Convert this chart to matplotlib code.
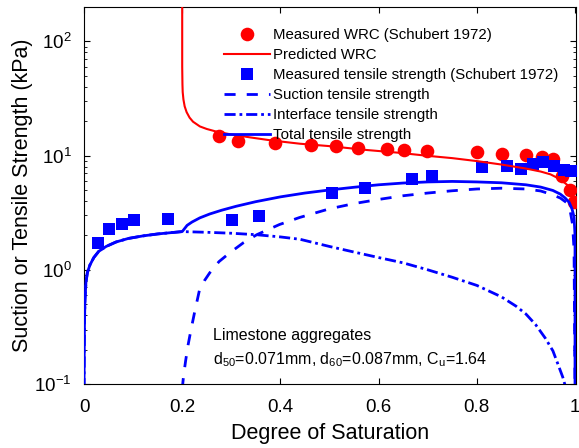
import matplotlib
matplotlib.use('Agg')
import matplotlib.pyplot as plt
from matplotlib.ticker import LogLocator, FixedLocator, FixedFormatter, NullFormatter

plt.rcParams['font.family'] = ['Liberation Sans', 'DejaVu Sans']
plt.rcParams['mathtext.default'] = 'regular'

# measured water retention (Schubert 1972)
wrc_S = [0.275, 0.314, 0.389, 0.462, 0.513, 0.558, 0.617, 0.652, 0.699, 0.800,
         0.851, 0.900, 0.933, 0.955, 0.974, 0.990, 0.997]
wrc_v = [14.8, 13.4, 12.8, 12.3, 12.1, 11.6, 11.4, 11.1, 10.9, 10.7,
         10.3, 10.1, 9.7, 9.3, 6.6, 4.95, 3.95]

# measured tensile strength (Schubert 1972)
ts_S = [0.029, 0.051, 0.077, 0.102, 0.171, 0.301, 0.356, 0.505, 0.572, 0.668,
        0.709, 0.811, 0.862, 0.890, 0.914, 0.935, 0.957, 0.978, 0.992]
ts_v = [1.73, 2.29, 2.54, 2.75, 2.81, 2.75, 2.98, 4.75, 5.16, 6.19,
        6.58, 7.89, 8.05, 7.58, 8.38, 8.73, 8.05, 7.43, 7.28]

# predicted WRC curve
pw_S = [0.2, 0.2, 0.2005, 0.201, 0.2025, 0.205, 0.209, 0.215, 0.222, 0.236,
        0.25, 0.27, 0.3, 0.34, 0.38, 0.44, 0.5, 0.575, 0.64, 0.7,
        0.75, 0.8, 0.85, 0.9, 0.93, 0.95, 0.97, 0.985, 0.993, 1.0]
pw_v = [250, 60, 42, 36, 31, 27, 24, 21.5, 19.8, 18.0,
        17.1, 16.2, 15.3, 14.4, 13.6, 12.7, 12.1, 11.2, 10.6, 9.95,
        9.5, 8.95, 8.35, 7.7, 7.25, 6.85, 6.2, 5.5, 4.8, 3.8]

# suction tensile strength
su_S = [0.2, 0.203, 0.207, 0.212, 0.218, 0.225, 0.235, 0.245, 0.256, 0.275,
        0.297, 0.325, 0.352, 0.398, 0.439, 0.5, 0.55, 0.6, 0.65, 0.7,
        0.75, 0.8, 0.85, 0.9, 0.93, 0.953, 0.97, 0.982, 0.99, 0.995,
        0.998, 1.0]
su_v = [0.09, 0.12, 0.16, 0.22, 0.3, 0.42, 0.66, 0.8, 0.94, 1.18,
        1.41, 1.73, 2.03, 2.49, 2.87, 3.42, 3.8, 4.13, 4.45, 4.7,
        4.92, 5.1, 5.18, 5.1, 4.9, 4.56, 4.25, 3.9, 3.3, 2.5,
        1.5, 0.09]

# interface tensile strength
it_S = [0.0, 0.0005, 0.001, 0.002, 0.004, 0.007, 0.012, 0.02, 0.03, 0.045,
        0.065, 0.09, 0.12, 0.15, 0.18, 0.2, 0.25, 0.3, 0.35, 0.4,
        0.44, 0.47, 0.5, 0.55, 0.6, 0.65, 0.7, 0.75, 0.8, 0.85,
        0.88, 0.9, 0.92, 0.94, 0.955, 0.965, 0.975, 0.982]
it_v = [0.09, 0.2, 0.35, 0.55, 0.78, 0.95, 1.1, 1.28, 1.45, 1.6,
        1.75, 1.88, 1.98, 2.06, 2.12, 2.16, 2.13, 2.09, 2.03, 1.94,
        1.85, 1.72, 1.6, 1.43, 1.28, 1.15, 1.0, 0.86, 0.73, 0.58,
        0.48, 0.41, 0.33, 0.25, 0.195, 0.15, 0.115, 0.09]

# total tensile strength
tt_S = [0.0, 0.0005, 0.001, 0.002, 0.004, 0.007, 0.012, 0.02, 0.03, 0.045,
        0.065, 0.09, 0.12, 0.15, 0.18, 0.2, 0.205, 0.21, 0.22, 0.236,
        0.256, 0.28, 0.31, 0.35, 0.4, 0.45, 0.5, 0.55, 0.6, 0.65,
        0.7, 0.75, 0.8, 0.85, 0.9, 0.93, 0.955, 0.97, 0.98, 0.988,
        0.994, 0.998, 1.0, 1.0]
tt_v = [0.09, 0.2, 0.35, 0.55, 0.78, 0.95, 1.1, 1.28, 1.45, 1.6,
        1.75, 1.88, 1.98, 2.06, 2.12, 2.16, 2.3, 2.45, 2.62, 2.85,
        3.08, 3.32, 3.6, 3.95, 4.35, 4.7, 5.0, 5.28, 5.55, 5.75,
        5.88, 5.94, 5.88, 5.78, 5.55, 5.3, 4.95, 4.6, 4.25, 3.9,
        3.4, 2.9, 2.0, 0.09]

xticks = [0, 0.2, 0.4, 0.6, 0.8, 1.0]
xlabels = ['0', '0.2', '0.4', '0.6', '0.8', '1']

fig = plt.figure(figsize=(5.79, 4.48), dpi=100)
ax = fig.add_axes([84 / 579, 1 - 384 / 448, 492 / 579, 377 / 448])

ax.plot(wrc_S, wrc_v, 'o', color='red', markersize=9.8, markeredgewidth=0,
        label='Measured WRC (Schubert 1972)', zorder=3)
ax.plot(pw_S, pw_v, '-', color='red', lw=1.5, label='Predicted WRC', zorder=4)
ax.plot(ts_S, ts_v, 's', color='blue', markersize=8.5, markeredgewidth=0,
        label='Measured tensile strength (Schubert 1972)', zorder=3)
ax.plot(su_S, su_v, color='blue', lw=2, dashes=(4, 4),
        label='Suction tensile strength', zorder=4)
ax.plot(it_S, it_v, color='blue', lw=2, dashes=(4, 1.4, 1, 1.4),
        label='Interface tensile strength', zorder=4)
ax.plot(tt_S, tt_v, '-', color='blue', lw=2, label='Total tensile strength', zorder=4)

ax.set_yscale('log')
ax.set_xlim(0, 1.002)
ax.set_ylim(0.1, 200)
ax.xaxis.set_major_locator(FixedLocator(xticks))
ax.xaxis.set_major_formatter(FixedFormatter(xlabels))
ax.yaxis.set_major_locator(LogLocator(base=10, numticks=10))
ax.yaxis.set_minor_locator(LogLocator(base=10, subs=range(2, 10), numticks=10))
ax.yaxis.set_minor_formatter(NullFormatter())
ax.tick_params(which='both', direction='in', top=True, right=True, labelsize=13.5)
ax.tick_params(which='major', length=4.5, width=0.8)
ax.tick_params(which='minor', length=2.5, width=0.6)
ax.tick_params(axis='x', which='major', pad=11)
ax.tick_params(axis='y', which='major', pad=9)
for s in ax.spines.values():
    s.set_linewidth(0.8)

ax.set_xlabel('Degree of Saturation', fontsize=15.5, labelpad=5)
ax.set_ylabel('Suction or Tensile Strength (kPa)', fontsize=15.5, labelpad=1)

ax.legend(loc='upper left', bbox_to_anchor=(0.284, 0.943), frameon=False,
          fontsize=10.8, handlelength=3.1, handletextpad=0.2, labelspacing=0.4,
          borderpad=0, borderaxespad=0, numpoints=1)

ax.text(0.262, 0.116, 'Limestone aggregates', transform=ax.transAxes,
        fontsize=11.5, va='baseline')
ax.text(0.262, 0.052, 'd$_{50}$=0.071mm, d$_{60}$=0.087mm, C$_{u}$=1.64',
        transform=ax.transAxes, fontsize=11.5, va='baseline')

fig.savefig('out.png', dpi=100)
